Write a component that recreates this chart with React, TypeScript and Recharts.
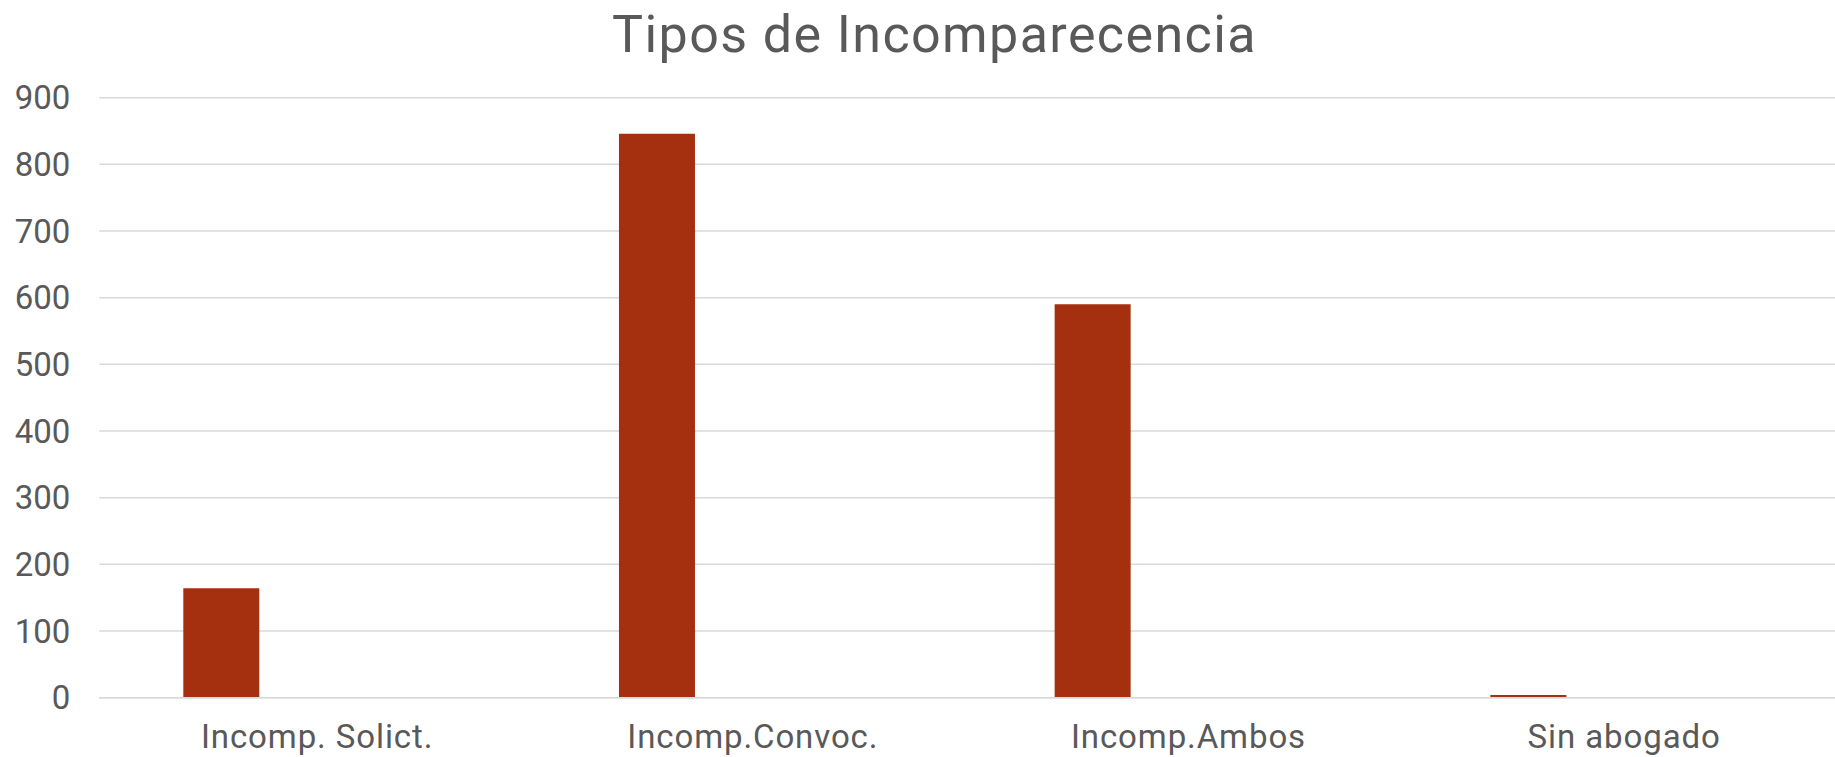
import React from "react";
import { BarChart, Bar, XAxis, YAxis, CartesianGrid } from "recharts";

const categories = ["Incomp. Solict.", "Incomp.Convoc.", "Incomp.Ambos", "Sin abogado"];
const serie1 = [164, 846, 590, 4];
const serie2 = [0, 0, 0, 0];
const yTicks = [0, 100, 200, 300, 400, 500, 600, 700, 800, 900];

const data = categories.map((name, i) => ({ name, serie1: serie1[i], serie2: serie2[i] }));

const FONT = "Roboto, 'DejaVu Sans', sans-serif";
const GREY = "#595959";

export default function App() {
  return (
    <div style={{ position: "absolute", left: 0, top: 0, width: 1835, height: 757, overflow: "hidden", background: "#fff" }}>
      <div
        style={{
          position: "absolute",
          left: 0,
          width: 1869,
          top: 3.5,
          textAlign: "center",
          fontFamily: FONT,
          fontSize: 52,
          letterSpacing: 1.4,
          color: GREY,
          lineHeight: "61px",
          whiteSpace: "nowrap",
        }}
      >
        Tipos de Incomparecencia
      </div>
      <BarChart
        width={1845}
        height={757}
        data={data}
        margin={{ top: 97.7, right: 3, bottom: 0, left: 0 }}
        barSize={76}
        barGap={116.6}
      >
        <CartesianGrid vertical={false} stroke="#d9d9d9" strokeWidth={1.5} />
        <XAxis
          dataKey="name"
          height={59.3}
          axisLine={{ stroke: "#d9d9d9", strokeWidth: 1.5 }}
          tickLine={false}
          tickSize={0}
          tickMargin={27.3}
          tick={{ fill: GREY, fontSize: 33, fontFamily: FONT, letterSpacing: 0.9 }}
          interval={0}
        />
        <YAxis
          width={99.3}
          domain={[0, 900]}
          ticks={yTicks}
          axisLine={false}
          tickLine={false}
          tickSize={0}
          tickMargin={29}
          tick={{ fill: GREY, fontSize: 33, fontFamily: FONT }}
          interval={0}
        />
        <Bar dataKey="serie1" fill="#A5300F" isAnimationActive={false} />
        <Bar dataKey="serie2" fill="#C55A11" isAnimationActive={false} />
      </BarChart>
    </div>
  );
}
